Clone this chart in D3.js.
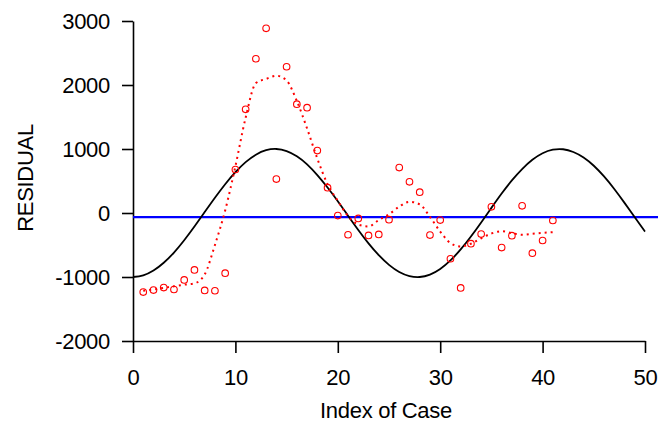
<!DOCTYPE html>
<html>
<head>
<meta charset="utf-8">
<script src="https://cdn.jsdelivr.net/npm/d3@7"></script>
<style>
  body { margin: 0; background: #fff; }
  svg { display: block; font-family: "Liberation Sans", Arial, sans-serif; }
</style>
</head>
<body>
<svg width="658" height="422"></svg>
<script>
// residuals by case index
const caseIndex = d3.range(1, 42)
const residuals = [-1235, -1205, -1165, -1195, -1045, -890, -1210, -1215, -940, 680,
  1620, 2410, 2885, 530, 2285, 1700, 1645, 975, 395, -40,
  -340, -85, -350, -335, -105, 710, 487, 325, -345, -110,
  -715, -1170, -480, -330, 97, -540, -355, 112, -628, -430, -117]

// smoothed residuals (dotted red)
const smoothed = [-1215, -1195, -1170, -1145, -1120, -1100, -960, -500, 40, 730,
  1490, 2030, 2095, 2145, 2070, 1750, 1320, 850, 450, 190,
  -50, -180, -210, -110, -20, 100, 175, 135, -60, -290,
  -470, -523, -480, -395, -320, -285, -315, -340, -325, -310, -300]

// black reference curve, read at every case 0..50
const curveX = d3.range(0, 51)
const curveY = [-1000, -974, -899, -778, -618, -425, -211, 14, 238, 450,
  638, 795, 911, 981, 1000, 968, 887, 761, 593, 398,
  184, -42, -265, -475, -659, -810, -921, -985, -1000, -962,
  -874, -741, -569, -367, -147, 80, 304, 509, 686, 831,
  933, 989, 996, 953, 867, 738, 571, 375, 158, -68, -291]

const meanLevel = -65
const xTicks = [0, 10, 20, 30, 40, 50]
const yTicks = [-2000, -1000, 0, 1000, 2000, 3000]

const svg = d3.select('svg')

const x = d3.scaleLinear().domain([0, 50]).range([133, 645])
const y = d3.scaleLinear().domain([-2000, 3000]).range([341, 21])

// axes
svg.append('g')
  .attr('transform', `translate(0,${y(-2000)})`)
  .call(d3.axisBottom(x).tickValues(xTicks).tickFormat(d => String(d))
    .tickSize(12).tickSizeOuter(0).tickPadding(16))
svg.append('g')
  .attr('transform', `translate(${x(0)},0)`)
  .call(d3.axisLeft(y).tickValues(yTicks).tickFormat(d => String(d))
    .tickSize(11).tickSizeOuter(0).tickPadding(12))

svg.selectAll('.domain, .tick line').attr('stroke', '#000').attr('stroke-width', 1.6)
svg.selectAll('.tick text').attr('font-size', 22).attr('fill', '#000')
  .attr('font-family', '"Liberation Sans", Arial, sans-serif')
  .attr('letter-spacing', -0.3)

svg.append('text')
  .attr('x', 386).attr('y', 418)
  .attr('text-anchor', 'middle').attr('font-size', 22)
  .attr('letter-spacing', -0.3)
  .text('Index of Case')
svg.append('text')
  .attr('transform', 'translate(33,178) rotate(-90)')
  .attr('text-anchor', 'middle').attr('font-size', 22)
  .attr('letter-spacing', -0.3)
  .text('RESIDUAL')

// mean line
svg.append('line')
  .attr('x1', x(0)).attr('x2', x(51.3))
  .attr('y1', y(meanLevel)).attr('y2', y(meanLevel))
  .attr('stroke', '#0000ff').attr('stroke-width', 2.2)

// black curve
const blackLine = d3.line()
  .x((d, i) => x(curveX[i]))
  .y(d => y(d))
  .curve(d3.curveNatural)
svg.append('path')
  .attr('d', blackLine(curveY))
  .attr('fill', 'none').attr('stroke', '#000').attr('stroke-width', 1.8)

// dotted smooth
const smoothLine = d3.line()
  .x((d, i) => x(caseIndex[i]))
  .y(d => y(d))
  .curve(d3.curveMonotoneX)
svg.append('path')
  .attr('d', smoothLine(smoothed))
  .attr('fill', 'none').attr('stroke', '#ff0000')
  .attr('stroke-width', 2).attr('stroke-dasharray', '2,4')

// points
svg.selectAll('circle.pt').data(residuals)
  .enter().append('circle')
    .attr('class', 'pt')
    .attr('cx', (d, i) => x(caseIndex[i]))
    .attr('cy', d => y(d))
    .attr('r', 3.3)
    .attr('fill', 'none')
    .attr('stroke', '#ff0000')
    .attr('stroke-width', 1.1)
</script>
</body>
</html>
